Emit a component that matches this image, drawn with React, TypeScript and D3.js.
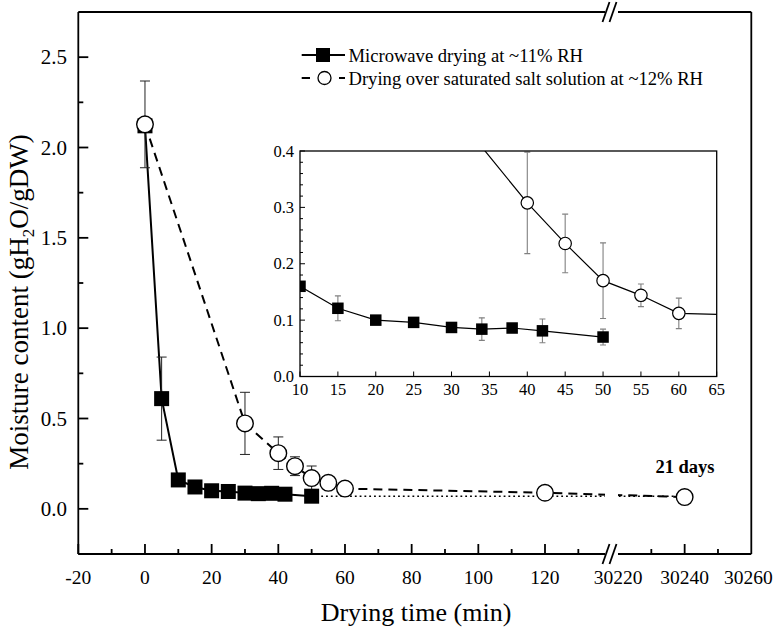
import React from "react";
import * as d3 from "d3";

// ---- Data ----
const microTime = [0, 5, 10, 15, 20, 25, 30, 34, 38, 42, 50];
const microValue = [2.12, 0.61, 0.16, 0.121, 0.1, 0.096, 0.087, 0.084, 0.086, 0.081, 0.07];
const microErr = [0, 0.23, 0, 0.022, 0, 0, 0, 0.02, 0.008, 0.021, 0.014];
// dotted continuation of microwave curve
const microTailTime = [50, 30240];
const microTailValue = [0.07, 0.07];

const saltTime = [0, 30, 40, 45, 50, 55, 60, 120, 30240];
const saltValue = [2.128, 0.473, 0.308, 0.236, 0.17, 0.144, 0.112, 0.089, 0.065];
const saltErr = [0.24, 0.172, 0.09, 0.052, 0.067, 0.02, 0.027, 0, 0];

const xMajorLeft = [-20, 0, 20, 40, 60, 80, 100, 120];
const xMinorLeft = [-10, 10, 30, 50, 70, 90, 110, 130];
const xMajorRight = [30240];
const xMinorRight = [30230, 30250];
const xTickLabels = ["-20", "0", "20", "40", "60", "80", "100", "120", "30220", "30240", "30260"];
const xTickLabelValues = [-20, 0, 20, 40, 60, 80, 100, 120, 30220, 30240, 30260];
const yMajor = [0, 0.5, 1.0, 1.5, 2.0, 2.5];
const yMinor = [-0.25, 0.25, 0.75, 1.25, 1.75, 2.25];

const insetXTicks = [10, 15, 20, 25, 30, 35, 40, 45, 50, 55, 60, 65];
const insetYTicks = [0, 0.1, 0.2, 0.3, 0.4];
const insetYMinor = [0.02, 0.04, 0.06, 0.08, 0.12, 0.14, 0.16, 0.18, 0.22, 0.24, 0.26, 0.28, 0.32, 0.34, 0.36, 0.38];

const legendLabels = ["Microwave drying at ~11% RH", "Drying over saturated salt solution at ~12% RH"];

// ---- Layout ----
const W = 774, H = 631;
const L = 78.3, R = 751.3, T = 12, B = 554;
const BREAK_L = 605, BREAK_R = 618;
const LEFT_MAX = 138;

const xLeft = d3.scaleLinear().domain([-20, LEFT_MAX]).range([L, BREAK_L]);
const xRight = d3.scaleLinear().domain([30220, 30260]).range([BREAK_R, R]);
const xPos = (t: number) => (t <= LEFT_MAX ? xLeft(t) : xRight(t));
const y = d3.scaleLinear().domain([-0.25, 2.75]).range([B, T]);

const IL = 300, IR = 716.7, IT = 151, IB = 376.5;
const xIn = d3.scaleLinear().domain([10, 65]).range([IL, IR]);
const yIn = d3.scaleLinear().domain([0, 0.4]).range([IB, IT]);

const FONT = "'Liberation Serif', 'Times New Roman', Times, serif";

type P = { t: number; v: number; e: number };
const micro: P[] = microTime.map((t, i) => ({ t, v: microValue[i], e: microErr[i] }));
const microTail: P[] = microTailTime.map((t, i) => ({ t, v: microTailValue[i], e: 0 }));
const salt: P[] = saltTime.map((t, i) => ({ t, v: saltValue[i], e: saltErr[i] }));

const mainLine = d3.line<P>().x((d) => xPos(d.t)).y((d) => y(d.v));
const insetLine = d3.line<P>().x((d) => xIn(d.t)).y((d) => yIn(d.v));

export default function App() {
  const SQ = 15, CR = 8.3;
  const ISQ = 11.5, ICR = 6.2;
  const insetBars = [...micro, ...salt.filter((d) => d.t >= 40)].filter((d) => d.e > 0 && d.t >= 10 && d.t <= 65);
  return (
    <svg
      width={W}
      height={H}
      viewBox={`0 0 ${W} ${H}`}
      style={{ position: "absolute", left: 0, top: 0, background: "#fff" }}
      fontFamily={FONT}
    >
      <defs>
        <clipPath id="breakClip">
          <rect x={0} y={0} width={BREAK_L} height={H} />
          <rect x={BREAK_R} y={0} width={W - BREAK_R} height={H} />
        </clipPath>
        <clipPath id="insetClip">
          <rect x={IL} y={IT} width={IR - IL} height={IB - IT} />
        </clipPath>
      </defs>
      <rect x={0} y={0} width={W} height={H} fill="#fff" />

      {/* main lines */}
      <g clipPath="url(#breakClip)" fill="none">
        <path d={mainLine(micro) || ""} stroke="#000" strokeWidth={2} />
        <path d={mainLine(microTail) || ""} stroke="#000" strokeWidth={1.5} strokeDasharray="1.8,3" />
        <path d={mainLine(salt) || ""} stroke="#000" strokeWidth={2} strokeDasharray="9,6" />
      </g>

      {/* main error bars */}
      <g stroke="#222" strokeWidth={1}>
        {[...micro, ...salt]
          .filter((d) => d.e > 0)
          .map((d, i) => {
            const cx = xPos(d.t);
            const y1 = y(d.v + d.e), y2 = y(d.v - d.e);
            return (
              <g key={"eb" + i}>
                <line x1={cx} x2={cx} y1={y1} y2={y2} />
                <line x1={cx - 5} x2={cx + 5} y1={y1} y2={y1} />
                <line x1={cx - 5} x2={cx + 5} y1={y2} y2={y2} />
              </g>
            );
          })}
      </g>

      {/* main markers */}
      <g>
        {micro.map((d, i) => (
          <rect key={"ms" + i} x={xPos(d.t) - SQ / 2} y={y(d.v) - SQ / 2} width={SQ} height={SQ} fill="#000" />
        ))}
        {salt.map((d, i) => (
          <circle key={"mc" + i} cx={xPos(d.t)} cy={y(d.v)} r={CR} fill="#fff" stroke="#000" strokeWidth={1.4} />
        ))}
      </g>

      {/* frame */}
      <g stroke="#000" strokeWidth={1.8} fill="none">
        <line x1={L} x2={L} y1={T} y2={B} />
        <line x1={R} x2={R} y1={T} y2={B} />
        <line x1={L} x2={BREAK_L} y1={T} y2={T} />
        <line x1={BREAK_R} x2={R} y1={T} y2={T} />
        <line x1={L} x2={BREAK_L} y1={B} y2={B} />
        <line x1={BREAK_R} x2={R} y1={B} y2={B} />
        {[T, B].map((yy, k) => (
          <g key={"br" + k}>
            <line x1={BREAK_L - 2.5} x2={BREAK_L + 4.5} y1={yy + 10} y2={yy - 10} />
            <line x1={BREAK_R - 8.5} x2={BREAK_R - 1.5} y1={yy + 10} y2={yy - 10} />
          </g>
        ))}
      </g>

      {/* ticks */}
      <g stroke="#000" strokeWidth={1.8}>
        {yMajor.map((v) => (
          <line key={"ym" + v} x1={L} x2={L + 10} y1={y(v)} y2={y(v)} />
        ))}
        {yMinor.map((v) => (
          <line key={"yn" + v} x1={L} x2={L + 5} y1={y(v)} y2={y(v)} />
        ))}
        {[...xMajorLeft.map((t) => xLeft(t)), ...xMajorRight.map((t) => xRight(t))].map((x, i) => (
          <line key={"xm" + i} x1={x} x2={x} y1={B} y2={B - 10} />
        ))}
        {[...xMinorLeft.map((t) => xLeft(t)), ...xMinorRight.map((t) => xRight(t))].map((x, i) => (
          <line key={"xn" + i} x1={x} x2={x} y1={B} y2={B - 5} />
        ))}
      </g>
      <g fill="#000">
        {yMajor.map((v) => (
          <text key={"yl" + v} x={67} y={y(v) + 7} textAnchor="end" fontSize={21}>
            {v.toFixed(1)}
          </text>
        ))}
        {xTickLabelValues.map((t, i) => (
          <text
            key={"xl" + i}
            x={xPos(t)}
            dx={i === xTickLabelValues.length - 1 ? -3 : 0}
            y={584}
            textAnchor="middle"
            fontSize={19.5}
          >
            {xTickLabels[i]}
          </text>
        ))}
      </g>

      {/* axis titles */}
      <text x={416} y={621} textAnchor="middle" fontSize={26}>
        Drying time (min)
      </text>
      <text transform="translate(28,302) rotate(-90)" textAnchor="middle" fontSize={27}>
        Moisture content (gH<tspan dy={6} fontSize={17}>2</tspan>
        <tspan dy={-6}>O/gDW)</tspan>
      </text>

      {/* 21 days */}
      <text x={685} y={473} textAnchor="middle" fontSize={18.5} fontWeight="bold">
        21 days
      </text>

      {/* legend */}
      <g>
        <line x1={301.7} x2={345} y1={55} y2={55} stroke="#000" strokeWidth={2} />
        <rect x={323 - 7} y={55 - 7} width={14} height={14} fill="#000" />
        <line x1={301.7} x2={310} y1={78} y2={78} stroke="#000" strokeWidth={2} />
        <line x1={339} x2={345} y1={78} y2={78} stroke="#000" strokeWidth={2} />
        <circle cx={324.5} cy={78} r={6.5} fill="#fff" stroke="#000" strokeWidth={1.3} />
        <text x={348.5} y={61.5} fontSize={18.6}>
          {legendLabels[0]}
        </text>
        <text x={348.5} y={84.5} fontSize={18.6}>
          {legendLabels[1]}
        </text>
      </g>

      {/* inset */}
      <g>
        <rect x={IL} y={IT} width={IR - IL} height={IB - IT} fill="#fff" />
        <g clipPath="url(#insetClip)">
          <path d={insetLine(micro) || ""} fill="none" stroke="#000" strokeWidth={1.2} />
          <path d={insetLine(salt.filter((d) => d.t <= 200)) || ""} fill="none" stroke="#000" strokeWidth={1.2} />
          <g stroke="#808080" strokeWidth={1.1}>
            {insetBars.map((d, i) => {
              const cx = xIn(d.t);
              const y1 = yIn(d.v + d.e), y2 = yIn(d.v - d.e);
              return (
                <g key={"ie" + i}>
                  <line x1={cx} x2={cx} y1={y1} y2={y2} />
                  <line x1={cx - 3} x2={cx + 3} y1={y1} y2={y1} />
                  <line x1={cx - 3} x2={cx + 3} y1={y2} y2={y2} />
                </g>
              );
            })}
          </g>
          {micro.map((d, i) => (
            <rect key={"is" + i} x={xIn(d.t) - ISQ / 2} y={yIn(d.v) - ISQ / 2} width={ISQ} height={ISQ} fill="#000" />
          ))}
          {salt
            .filter((d) => d.t <= 200)
            .map((d, i) => (
              <circle key={"ic" + i} cx={xIn(d.t)} cy={yIn(d.v)} r={ICR} fill="#fff" stroke="#000" strokeWidth={1.2} />
            ))}
        </g>
        <rect x={IL} y={IT} width={IR - IL} height={IB - IT} fill="none" stroke="#000" strokeWidth={1.3} />
        <g stroke="#000" strokeWidth={1}>
          {insetYTicks.map((v) => (
            <line key={"iyt" + v} x1={IL} x2={IL + 5} y1={yIn(v)} y2={yIn(v)} />
          ))}
          {insetYMinor.map((v) => (
            <line key={"iyn" + v} x1={IL} x2={IL + 3} y1={yIn(v)} y2={yIn(v)} />
          ))}
          {insetXTicks.map((t) => (
            <line key={"ixt" + t} x1={xIn(t)} x2={xIn(t)} y1={IB} y2={IB - 5} />
          ))}
        </g>
        <g fontSize={16.5} fill="#000">
          {insetYTicks.map((v) => (
            <text key={"iyl" + v} x={294} y={yIn(v) + 5.5} textAnchor="end">
              {v.toFixed(1)}
            </text>
          ))}
          {insetXTicks.map((t) => (
            <text key={"ixl" + t} x={xIn(t)} y={395} textAnchor="middle">
              {t}
            </text>
          ))}
        </g>
      </g>
    </svg>
  );
}
